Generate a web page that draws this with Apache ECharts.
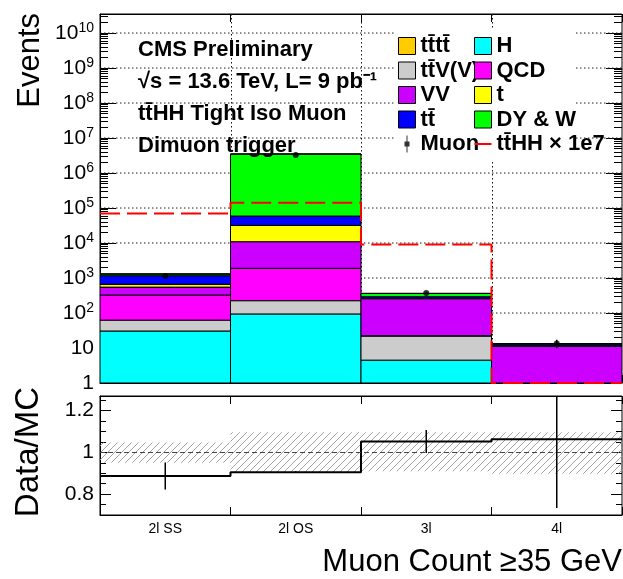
<!DOCTYPE html>
<html>
<head>
<meta charset="utf-8">
<script src="https://cdn.jsdelivr.net/npm/echarts@6/dist/echarts.min.js"></script>
<style>
  html, body { margin: 0; padding: 0; background: #fff; }
  #chart { width: 623px; height: 579px; }
</style>
</head>
<body>
<div id="chart"></div>
<script>
// bins of the muon count
const bins = ['2l SS', '2l OS', '3l', '4l'];

// MC stack, bottom to top (events per bin)
const mcH    = [30.6, 94, 4.5, 0.3];
const mcTTV  = [32, 131, 17.5, 0.4];
const mcQCD  = [264, 1665, 0.5, 0];
const mcVV   = [223, 9010, 234, 10.5];
const mcT    = [110, 20900, 6, 0.2];
const mcTT   = [504, 27200, 30, 1.0];
const mcDYW  = [140, 3.43e6, 70, 0.8];
const mcTTTT = [0.5, 30, 1, 0.1];

// data and signal
const dataMuon = [1150, 3.3e6, 370, 13.5];
const ttHHx1e7 = [7.0e4, 1.42e5, 9.0e3, 1];

// ratio panel
const ratio    = [0.887, 0.905, 1.052, 1.063];
const ratioErr = [0.065, 0.004, 0.055, 0.33];
const bandLo   = [0.95, 0.905, 0.91, 0.897];
const bandHi   = [1.047, 1.096, 1.096, 1.096];

// tick labels
const logLabels   = [1, 10, 1e2, 1e3, 1e4, 1e5, 1e6, 1e7, 1e8, 1e9, 1e10];
const binEdges    = [1, 2, 3];
const ratioLabels = [0.8, 1, 1.2];
const ratioMinor  = [0.7, 0.75, 0.85, 0.9, 0.95, 1.05, 1.1, 1.15, 1.25];

const tb = 't\u0304';
const FONT = '"Liberation Sans", Helvetica, Arial, sans-serif';
const Y_MIN = 1, Y_MAX = 3.5e10;

// process definitions (stack order) with their colours
const procs = [
    { name: 'H', color: '#00ffff', vals: mcH },
    { name: 't' + tb + 'V(V)', color: '#cccccc', vals: mcTTV },
    { name: 'QCD', color: '#ff00ff', vals: mcQCD },
    { name: 'VV', color: '#cc00ff', vals: mcVV },
    { name: 't', color: '#ffff00', vals: mcT },
    { name: 't' + tb, color: '#0000ff', vals: mcTT },
    { name: 'DY & W', color: '#00ff00', vals: mcDYW },
    { name: 't' + tb + 't' + tb, color: '#ffcc00', vals: mcTTTT }
];

// minor ticks of the log axis (2..9 per decade)
const logMinor = [];
for (let e = 0; e <= 10; e++) {
    for (let m = 2; m <= 9; m++) {
        const v = m * Math.pow(10, e);
        if (v < Y_MAX) logMinor.push(v);
    }
}

// hatch pattern for the ratio uncertainty band
const hatch = document.createElement('canvas');
hatch.width = 7; hatch.height = 7;
(function () {
    const g = hatch.getContext('2d');
    g.strokeStyle = '#9a9a9a';
    g.lineWidth = 0.9;
    g.beginPath();
    g.moveTo(0, 7); g.lineTo(7, 0);
    g.moveTo(-1, 1); g.lineTo(1, -1);
    g.moveTo(6, 8); g.lineTo(8, 6);
    g.stroke();
})();

const chart = echarts.init(document.getElementById('chart'));

// stacked histogram layers
const cum = [0, 0, 0, 0];
const stackSeries = procs.map(p => {
    const rows = p.vals.map((v, i) => {
        const lo = Math.max(cum[i], Y_MIN);
        cum[i] += v;
        return [i, lo, Math.max(cum[i], Y_MIN)];
    });
    return {
        type: 'custom',
        name: p.name,
        xAxisIndex: 0, yAxisIndex: 0,
        itemStyle: { color: p.color },
        encode: { x: 0, y: [1, 2] },
        clip: true,
        z: 2,
        data: rows,
        renderItem: (params, api) => {
            const i = api.value(0), lo = api.value(1), hi = api.value(2);
            if (hi <= lo) return null;
            const p0 = api.coord([i, lo]);
            const p1 = api.coord([i + 1, hi]);
            return {
                type: 'rect',
                shape: { x: p0[0], y: p1[1], width: p1[0] - p0[0], height: p0[1] - p1[1] },
                style: { fill: p.color, stroke: '#000', lineWidth: 1 }
            };
        }
    };
});

// dotted grid lines of the upper panel (drawn under the stack)
const gridDash = { stroke: '#111', lineWidth: 1, lineDash: [1.5, 2.5] };
const vGrid = {
    type: 'custom', xAxisIndex: 0, yAxisIndex: 0, z: 1, silent: true,
    encode: { x: 0, y: 1 },
    data: [[1, 10]],
    renderItem: (params, api) => {
        const kids = binEdges.map(v => {
            const a = api.coord([v, Y_MIN]), b = api.coord([v, Y_MAX]);
            const x = Math.round(a[0]) + 0.5;
            return { type: 'line', shape: { x1: x, y1: b[1], x2: x, y2: a[1] }, style: gridDash };
        });
        return { type: 'group', children: kids };
    }
};
// one flat line series per decade for the horizontal grid
const hGrid = logLabels.slice(1).map(v => ({
    type: 'line', xAxisIndex: 0, yAxisIndex: 0, z: 1, silent: true,
    symbol: 'none',
    lineStyle: { color: '#222', width: 1, type: [1.5, 2.5] },
    data: [[0, v], [bins.length, v]]
}));

const stepData = arr => arr.map((v, i) => [i, v]).concat([[arr.length, arr[arr.length - 1]]]);

const vline = (xIdx, yIdx, rows, width, z) => ({
    type: 'custom',
    xAxisIndex: xIdx, yAxisIndex: yIdx,
    clip: true,
    z: z,
    silent: true,
    encode: { x: 0, y: [1, 2] },
    data: rows,
    renderItem: (params, api) => {
        const a = api.coord([api.value(0), api.value(1)]);
        const b = api.coord([api.value(0), api.value(2)]);
        return {
            type: 'line',
            shape: { x1: a[0], y1: a[1], x2: b[0], y2: b[1] },
            style: { stroke: '#000', lineWidth: width }
        };
    }
});

const tickStyle = { color: '#000', width: 1 };
const noLabel = { show: false };
const noLine = { show: false };

const supLabel = v => {
    const e = Math.round(Math.log10(v));
    if (e === 0) return '1';
    if (e === 1) return '10';
    return '{b|10}{s|' + e + '}';
};

const logAxis = (pos, withLabels, ticks, len, line) => ({
    type: 'log', logBase: 10, gridIndex: 0, position: pos,
    min: Y_MIN, max: Y_MAX,
    axisLine: line ? { show: true, lineStyle: { color: '#000' } } : noLine,
    axisTick: { inside: true, length: len, customValues: ticks, lineStyle: tickStyle },
    axisLabel: withLabels ? {
        customValues: logLabels,
        formatter: supLabel,
        margin: 6,
        color: '#000',
        fontFamily: FONT,
        fontSize: 21,
        rich: {
            b: { fontFamily: FONT, fontSize: 21, color: '#000', lineHeight: 24 },
            s: { fontFamily: FONT, fontSize: 14, color: '#000', verticalAlign: 'top', lineHeight: 14 }
        }
    } : noLabel,
    splitLine: { show: false }
});

const ratioAxis = (pos, withLabels, ticks, len) => ({
    type: 'value', gridIndex: 1, position: pos,
    min: 0.7, max: 1.27,
    axisLine: withLabels ? { show: true, lineStyle: { color: '#000' } } : noLine,
    axisTick: { inside: true, length: len, customValues: ticks, lineStyle: tickStyle },
    axisLabel: withLabels ? {
        customValues: ratioLabels,
        formatter: v => String(+v.toFixed(1)),
        margin: 6, color: '#000', fontFamily: FONT, fontSize: 21
    } : noLabel,
    splitLine: { show: false }
});

const binAxis = (grid, pos) => ({
    type: 'value', gridIndex: grid, position: pos,
    min: 0, max: 4, interval: 1,
    axisLine: { show: true, lineStyle: { color: '#000' } },
    axisTick: { inside: true, length: 8, lineStyle: tickStyle },
    axisLabel: noLabel,
    splitLine: { show: false }
});

const legendText = { fontFamily: FONT, fontSize: 22, fontWeight: 'bold', color: '#000', lineHeight: 22 };
const box = (name, color) => ({ name, icon: 'rect', itemStyle: { color, borderColor: '#000', borderWidth: 1 } });

const option = {
    animation: false,
    backgroundColor: '#fff',
    title: {
        left: 133, top: 29, z: 3,
        text: 'CMS Preliminary\n\u221As = 13.6 TeV, L= 9 pb\u207B\u00B9\nt' + tb + 'HH Tight Iso Muon\nDimuon trigger',
        textStyle: { fontFamily: FONT, fontSize: 22, fontWeight: 'bold', color: '#000', lineHeight: 32 }
    },
    grid: [
        { left: 100, top: 14, right: 1, height: 369, show: true, borderColor: '#000', borderWidth: 1, backgroundColor: 'transparent' },
        { left: 100, top: 396, right: 1, height: 119, show: true, borderColor: '#000', borderWidth: 1, backgroundColor: 'transparent' }
    ],
    legend: [
        {
            orient: 'vertical', left: 394, top: 29, z: 4,
            padding: [6, 96, 6, 4],
            backgroundColor: '#fff',
            itemWidth: 17, itemHeight: 17, itemGap: 2.5,
            selectedMode: false,
            textStyle: legendText,
            data: [
                box('t' + tb + 't' + tb, '#ffcc00'),
                box('t' + tb + 'V(V)', '#cccccc'),
                box('VV', '#cc00ff'),
                box('t' + tb, '#0000ff'),
                { name: 'Muon', icon: 'path://M0,8.5L0,8.5M17,8.5L17,8.5M8,0h1v17h-1zM6,6h5v5h-5z',
                  itemStyle: { color: '#000', borderWidth: 0 } }
            ]
        },
        {
            orient: 'vertical', left: 474, top: 35, z: 5,
            padding: 0,
            itemWidth: 17, itemHeight: 17, itemGap: 2.5,
            selectedMode: false,
            textStyle: legendText,
            data: [
                box('H', '#00ffff'),
                box('QCD', '#ff00ff'),
                box('t', '#ffff00'),
                box('DY & W', '#00ff00'),
                { name: 't' + tb + 'HH \u00D7 1e7', icon: 'path://M0,0L0,0M0,17L0,17M0,7.5h17v2h-17z',
                  itemStyle: { color: '#ff0000', borderWidth: 0 } }
            ]
        }
    ],
    xAxis: [
        binAxis(0, 'bottom'),
        binAxis(0, 'top'),
        binAxis(1, 'bottom'),
        binAxis(1, 'top'),
        {
            type: 'category', gridIndex: 1, position: 'bottom', data: bins,
            axisLine: noLine, axisTick: { show: false },
            axisLabel: { margin: 7, color: '#000', fontFamily: FONT, fontSize: 14 }
        }
    ],
    yAxis: [
        logAxis('left', true, logLabels, 16, true),
        logAxis('left', false, logMinor, 8, false),
        logAxis('right', false, logLabels, 16, false),
        logAxis('right', false, logMinor, 8, false),
        ratioAxis('left', true, ratioLabels, 11),
        ratioAxis('left', false, ratioMinor, 6),
        ratioAxis('right', false, ratioLabels, 11),
        ratioAxis('right', false, ratioMinor, 6)
    ],
    series: hGrid.concat([vGrid], stackSeries, [
        {
            type: 'line', name: 't' + tb + 'HH \u00D7 1e7',
            xAxisIndex: 0, yAxisIndex: 0,
            step: 'end', symbol: 'none', z: 4,
            lineStyle: { color: '#ff0000', width: 2, type: [20, 7] },
            itemStyle: { color: '#ff0000' },
            data: stepData(ttHHx1e7)
        },
        vline(0, 0, dataMuon.map((v, i) => [i + 0.5, v - Math.sqrt(v), v + Math.sqrt(v)]), 1.5, 5),
        {
            type: 'scatter', name: 'Muon',
            xAxisIndex: 0, yAxisIndex: 0, z: 6,
            symbol: 'circle', symbolSize: 6,
            itemStyle: { color: '#000' },
            data: dataMuon.map((v, i) => [i + 0.5, v])
        },
        {
            type: 'custom', name: 'band',
            xAxisIndex: 2, yAxisIndex: 4, z: 2, silent: true,
            encode: { x: 0, y: [1, 2] },
            data: bandLo.map((lo, i) => [i, lo, bandHi[i]]),
            renderItem: (params, api) => {
                const p0 = api.coord([api.value(0), api.value(1)]);
                const p1 = api.coord([api.value(0) + 1, api.value(2)]);
                return {
                    type: 'rect',
                    shape: { x: p0[0], y: p1[1], width: p1[0] - p0[0], height: p0[1] - p1[1] },
                    style: { fill: { image: hatch, repeat: 'repeat' }, stroke: null }
                };
            }
        },
        {
            type: 'line', name: 'ratio',
            xAxisIndex: 2, yAxisIndex: 4,
            step: 'end', symbol: 'none', z: 4,
            lineStyle: { color: '#000', width: 2 },
            data: stepData(ratio),
            markLine: {
                silent: true, symbol: 'none', label: { show: false },
                lineStyle: { color: '#444', type: [5, 3], width: 1 },
                data: [{ yAxis: 1 }]
            }
        },
        vline(2, 4, ratio.map((r, i) => [i + 0.5, r - ratioErr[i], r + ratioErr[i]]), 1.5, 5)
    ]),
    graphic: [
        {
            type: 'text', x: 30, y: 13, rotation: Math.PI / 2,
            style: { text: 'Events', font: '31px ' + FONT, fill: '#000', align: 'right', verticalAlign: 'middle' }
        },
        {
            type: 'text', x: 29, y: 387, rotation: Math.PI / 2,
            style: { text: 'Data/MC', font: '33px ' + FONT, fill: '#000', align: 'right', verticalAlign: 'middle' }
        },
        {
            type: 'text', x: 622, y: 562,
            style: { text: 'Muon Count \u226535 GeV', font: '31px ' + FONT, fill: '#000', align: 'right', verticalAlign: 'middle' }
        }
    ]
};

chart.setOption(option);
</script>
</body>
</html>
